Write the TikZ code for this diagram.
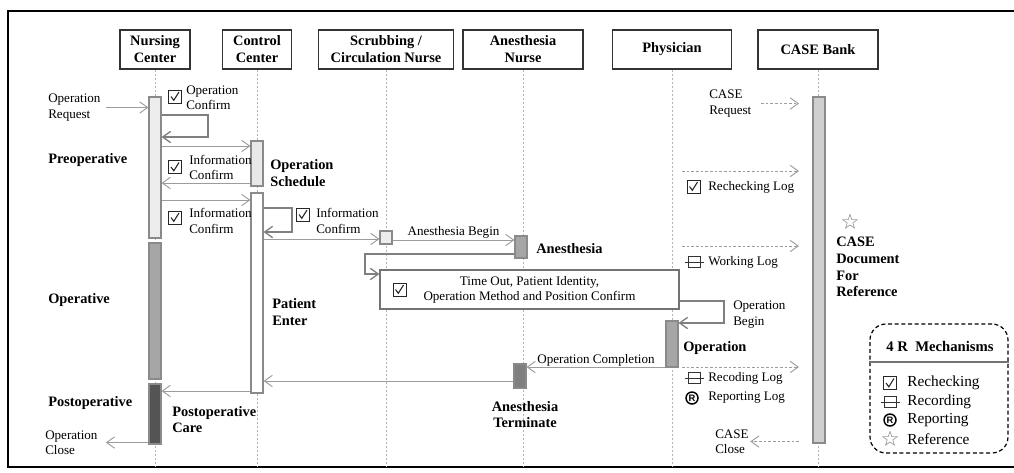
\documentclass[tikz,border=0pt]{standalone}
\usepackage{fontspec}
\setmainfont{Liberation Serif}
\setsansfont{Liberation Sans}
\usetikzlibrary{arrows.meta}
\usetikzlibrary{positioning}
\definecolor{msggray}{HTML}{9C9C9C}
\definecolor{barline}{HTML}{8A8A8A}
\definecolor{lifegray}{HTML}{B4B4B4}
\tikzset{head/.style = {draw = black!80, line width = 0.9pt, minimum height = 29.25pt,
    inner sep = 0, align = center, font = \fontsize{10.8}{12.75}\selectfont\bfseries}}
\tikzset{life/.style = {draw = lifegray, line width = 0.5pt, dash pattern = on 1.5pt off 1.5pt}}
\tikzset{bar/.style = {draw = barline, line width = 0.8pt, minimum width = 9pt, inner sep = 0}}
\tikzset{msg/.style = {draw = msggray, line width = 0.7pt, -{Straight Barb[length = 6pt, width = 8.5pt]}}}
\tikzset{selfmsg/.style = {msg, draw = black!50, line width = 1pt}}
\tikzset{logmsg/.style = {msg, dash pattern = on 2pt off 1.5pt}}
\tikzset{txt/.style = {inner sep = 0, align = left, font = \fontsize{9.8}{11.4}\selectfont}}
\tikzset{lbl/.style = {inner sep = 0, align = left, font = \fontsize{10.8}{12.5}\selectfont\bfseries}}
\tikzset{lgd/.style = {inner sep = 0, anchor = west, font = \fontsize{11.5}{13}\selectfont}}
\tikzset{chk/.pic = {
    \draw[line width = 0.7pt, black!85] (-6.5, -6.5) rectangle (6.5, 6.5);
    \draw[line width = 0.8pt, black!85] (-4, 0) -- (-1.2, 3.8) -- (4, -4.5);}}
\tikzset{rec/.pic = {
    \draw[line width = 0.75pt, black!80] (-6, -5.5) rectangle (6, 5.5);
    \draw[line width = 0.75pt, black!80] (-9.5, 0) -- (9.5, 0);}}
\tikzset{rpt/.pic = {
    \node[circle, draw, line width = 1.1pt, inner sep = 0, minimum size = 9pt,
      font = \sffamily\bfseries\fontsize{7}{7}\selectfont] (-sym) {R};}}
\tikzset{refstar/.pic = {
    \draw[line width = 0.5pt, black!40] (0, -7.5)
      \foreach \k in {1, ..., 9} { -- ({-90 + 36 * \k}:{ifthenelse(isodd(\k), 3, 7.5)}) } -- cycle;}}

\begin{document}
\begin{tikzpicture}[x = 0.75pt, y = -0.75pt]
  \useasboundingbox (0, 0) rectangle (1014, 472);
  \draw[line width = 2pt] (1020, 11) -- (8, 11) -- (8, 467) -- (1020, 467);

  % lanes
  \node[head, minimum width = 52.5pt] (nursing) at (155, 49.5) {Nursing\\Center};
  \node[head, minimum width = 51.75pt] (control) at (257, 49.5) {Control\\Center};
  \node[head, minimum width = 101.25pt] (scrub) at (386, 49.5) {Scrubbing /\\Circulation Nurse};
  \node[head, minimum width = 90pt] (anest) at (523, 49.5) {Anesthesia\\Nurse};
  \node[head, minimum width = 89.25pt] (phys) at (672, 49.5) {Physician};
  \node[head, minimum width = 90pt] (casebank) at (818, 49.5) {CASE Bank};
  \foreach \lane in {nursing, control, scrub, anest, phys, casebank}
    \draw[life] (\lane.south) -- ++(0, 397);

  % activations
  \node[bar, fill = black!7, minimum height = 105.75pt] (nb1) at (155, 167.5) {};
  \node[bar, fill = black!35, minimum height = 102pt] (nb2) at (155, 311) {};
  \node[bar, fill = black!67, minimum height = 45pt] (nb3) at (155, 414) {};
  \node[bar, fill = black!9, minimum height = 33.75pt] (cb1) at (257, 163.5) {};
  \node[bar, fill = white, minimum height = 150pt] (cb2) at (257, 293) {};
  \node[bar, fill = black!7, minimum height = 9.75pt] (sb1) at (386, 237.5) {};
  \node[bar, fill = black!35, minimum height = 16.5pt] (ab1) at (521, 247) {};
  \node[bar, fill = black!50, minimum height = 18pt] (ab2) at (520, 376) {};
  \node[bar, fill = black!35, minimum height = 34.5pt] (pb1) at (672, 344) {};
  \node[bar, fill = black!19, minimum height = 259.5pt] (kb1) at (819, 270) {};

  % preoperative
  \node[txt, anchor = west] (oprequest) at (48, 107.5) {Operation\\Request};
  \draw[msg] ([xshift = 4pt]oprequest.east) -- (nb1.west |- oprequest.east);
  \pic at (175, 96.5) {chk};
  \node[txt, anchor = west] (opconfirm) at (186, 98) {Operation\\Confirm};
  \draw[selfmsg] (nb1.east |- 0, 115) -| (208, 137) -- (nb1.east |- 0, 137);
  \draw[msg] (nb1.east |- 0, 146) -- (cb1.west |- 0, 146);
  \node[lbl, anchor = west] (preop) at (48, 160) {Preoperative};
  \pic at (175, 167) {chk};
  \node[txt, anchor = west] (infoa) at (189, 167.5) {Information\\Confirm};
  \draw[msg] (cb1.west |- 0, 183) -- (nb1.east |- 0, 183);
  \node[lbl, anchor = west] (schedule) at (270, 173) {Operation\\Schedule};
  \draw[msg] (nb1.east |- 0, 200) -- (cb2.west |- 0, 200);
  \pic at (175, 217.5) {chk};
  \node[txt, anchor = west] (infob) at (189, 221) {Information\\Confirm};
  \draw[selfmsg] (cb2.east |- 0, 208) -| (292, 232) -- (cb2.east |- 0, 232);
  \pic at (303, 214.5) {chk};
  \node[txt, anchor = west] (infoc) at (316, 221) {Information\\Confirm};
  \draw[msg] (cb2.east |- 0, 239) -- (sb1.west |- 0, 239);
  \draw[msg] (sb1.east |- 0, 240) -- node[txt, above = 1pt] (anbegin) {Anesthesia Begin} (ab1.west |- 0, 240);

  % operative
  \node[lbl, anchor = west] (anesthesia) at (536, 249) {Anesthesia};
  \node[lbl, anchor = west] (operative) at (48, 300) {Operative};
  \node[lbl, anchor = west] (patient) at (272, 312) {Patient\\Enter};
  \node[txt, align = center, draw = black!55, line width = 0.8pt, fill = white,
    minimum width = 224.25pt, minimum height = 29.25pt] (timeout) at (529.5, 289.5)
    {Time Out, Patient Identity,\\Operation Method and Position Confirm};
  \pic at (399.5, 289.5) {chk};
  \draw[selfmsg] (ab1.west |- 0, 254) -| (365, 274) -- (timeout.west |- 0, 274);
  \draw[selfmsg] (timeout.east |- 0, 301) -| (724, 323) -- (pb1.east |- 0, 323);
  \node[txt, anchor = west] (opbegin) at (733, 314.5) {Operation\\Begin};
  \node[lbl, anchor = west] (operation) at (683, 348) {Operation};
  \draw[msg] (pb1.west |- 0, 367) -- node[txt, above = 0.5pt] (opcomplete) {Operation Completion} (ab2.east |- 0, 367);

  % postoperative
  \draw[msg] (ab2.west |- 0, 381) -- (cb2.east |- 0, 381);
  \node[lbl, align = center] (anterm) at (525, 414.5) {Anesthesia\\Terminate};
  \draw[msg] (cb2.west |- 0, 391) -- (nb3.east |- 0, 391);
  \node[lbl, anchor = west] (postop) at (48, 403) {Postoperative};
  \node[lbl, anchor = west] (postcare) at (172, 419.5) {Postoperative\\Care};
  \node[txt, anchor = west] (opclose) at (45, 442.5) {Operation\\Close};
  \draw[msg] (nb3.west |- opclose.east) -- ([xshift = 6pt]opclose.east);

  % CASE bank logs
  \coordinate (logstart) at (682, 0);
  \coordinate (logend) at (799, 0);
  \node[txt, anchor = west] (casereq) at (709, 103.5) {CASE\\Request};
  \draw[logmsg] ([xshift = 7pt]casereq.east) -- (logend |- casereq.east);
  \draw[logmsg] (logstart |- 0, 171) -- (logend |- 0, 171);
  \pic at (693.5, 186.5) {chk};
  \node[txt, anchor = west] (recheck) at (708, 187) {Rechecking Log};
  \draw[logmsg] (logstart |- 0, 246) -- (logend |- 0, 246);
  \pic at (694, 262) {rec};
  \node[txt, anchor = west] (worklog) at (708, 262) {Working Log};
  \draw[logmsg] (logstart |- 0, 367) -- (logend |- 0, 367);
  \pic at (694, 378) {rec};
  \node[txt, anchor = west] (recodelog) at (708, 378) {Recoding Log};
  \pic (replog) at (692, 398) {rpt};
  \node[txt, anchor = west] (reportlog) at (708, 398) {Reporting Log};
  \node[txt, anchor = west] (caseclose) at (715, 441.5) {CASE\\Close};
  \draw[logmsg] (logend |- caseclose.east) -- ([xshift = 1pt]caseclose.east);
  \pic at (850, 222) {refstar};
  \node[lbl, anchor = west] (casedoc) at (836, 267) {CASE\\Document\\For\\Reference};

  % legend
  \node[draw, line width = 0.9pt, dash pattern = on 3pt off 2pt, rounded corners = 12pt,
    minimum width = 103.5pt, minimum height = 96.75pt] (legend) at (939, 388.5) {};
  \node[inner sep = 0, font = \fontsize{11}{13}\selectfont\bfseries] (lgdtitle) at (940, 346) {4 R~~Mechanisms};
  \draw[black!55, line width = 0.8pt] (legend.west |- 0, 362) -- (legend.east |- 0, 362);
  \pic at (890, 383) {chk};
  \node[lgd] (lgdrecheck) at (907, 383) {Rechecking};
  \pic at (890, 402) {rec};
  \node[lgd] (lgdrecord) at (907, 402) {Recording};
  \pic (lgdr) at (890, 420) {rpt};
  \node[lgd] (lgdreport) at (907, 420) {Reporting};
  \pic at (890, 439) {refstar};
  \node[lgd] (lgdref) at (907, 439) {Reference};
\end{tikzpicture}
\end{document}
